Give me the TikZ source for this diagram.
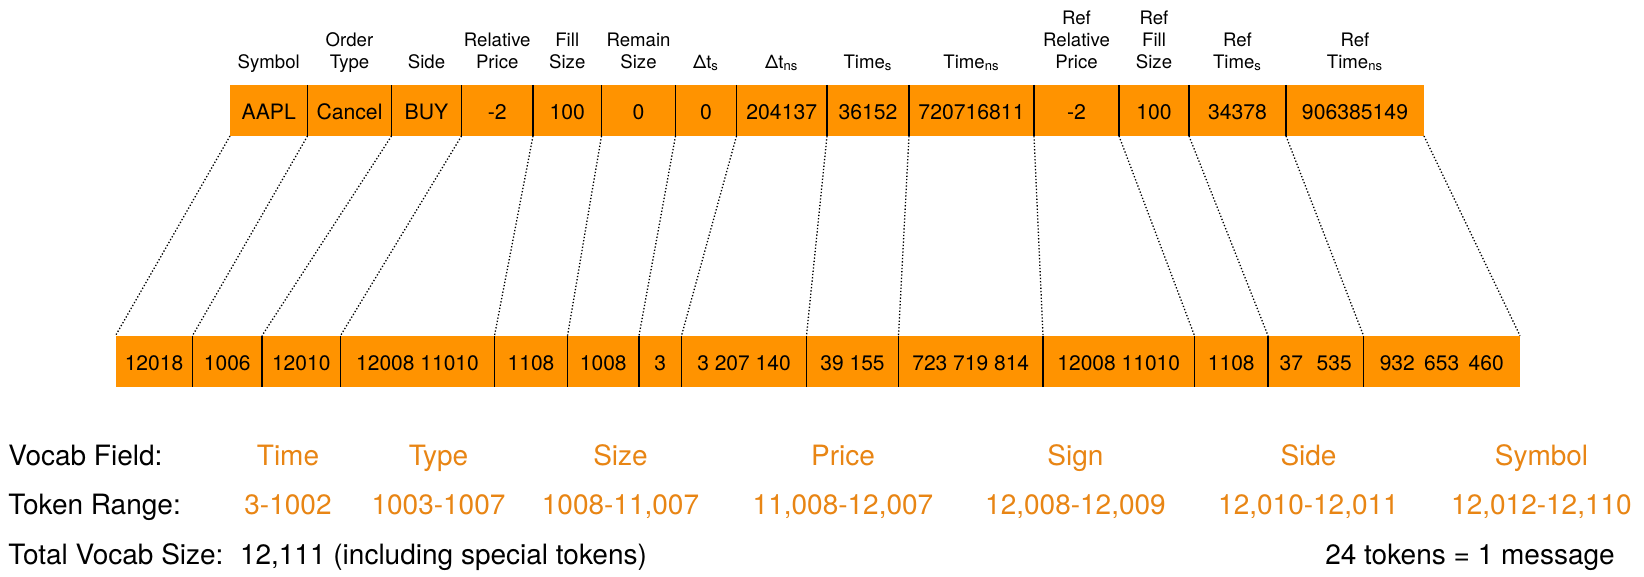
\documentclass[tikz,border=0pt]{standalone}
\usepackage{fontspec}
\setmainfont{TeX Gyre Heros}
\definecolor{cellorange}{RGB}{255,147,0}
\definecolor{txtorange}{RGB}{232,133,20}
\newcommand\hdstack[1]{\begin{tabular}[b]{@{}c@{}}#1\end{tabular}}
\begin{document}
\begin{tikzpicture}[x=0.5pt,y=-0.5pt,
  topcell/.style={rectangle, fill=cellorange, inner sep=0pt, outer sep=0pt,
    minimum height=25.5pt, text height=9.4pt, text depth=0pt,
    font=\fontsize{10.6}{12}\selectfont, anchor=west},
  botcell/.style={topcell, font=\fontsize{10.5}{12}\selectfont},
  hdr/.style={inner sep=0pt, outer sep=0pt, anchor=base, font=\fontsize{9.3}{10.85}\selectfont},
  divider/.style={black, line width=0.7pt},
  conn/.style={black, line width=0.65pt, dash pattern=on 0.65pt off 1pt},
  lbl/.style={inner sep=0pt, outer sep=0pt, font=\fontsize{14}{16}\selectfont},
  field/.style={lbl, text=txtorange, anchor=base}
]
\useasboundingbox (0,0) rectangle (1644,577);

% ---------- top row ----------
\node[topcell, minimum width=38.75pt] (T0) at (230,110.5) {AAPL};
\node[topcell, minimum width=42pt]    (T1) at (T0.east) {Cancel};
\node[topcell, minimum width=35pt]    (T2) at (T1.east) {BUY};
\node[topcell, minimum width=35.75pt] (T3) at (T2.east) {-2};
\node[topcell, minimum width=34.25pt] (T4) at (T3.east) {100};
\node[topcell, minimum width=37pt]    (T5) at (T4.east) {0};
\node[topcell, minimum width=30.5pt]  (T6) at (T5.east) {0};
\node[topcell, minimum width=45.25pt] (T7) at (T6.east) {204137};
\node[topcell, minimum width=41pt]    (T8) at (T7.east) {36152};
\node[topcell, minimum width=62.5pt]  (T9) at (T8.east) {720716811};
\node[topcell, minimum width=42.5pt]  (T10) at (T9.east) {-2};
\node[topcell, minimum width=35pt]    (T11) at (T10.east) {100};
\node[topcell, minimum width=48.5pt]  (T12) at (T11.east) {34378};
\node[topcell, minimum width=69pt]    (T13) at (T12.east) {906385149};

% ---------- bottom row ----------
\node[botcell, minimum width=38.5pt]  (B0) at (115.5,361.2) {12018};
\node[botcell, minimum width=34.75pt] (B1) at (B0.east) {1006};
\node[botcell, minimum width=39.25pt] (B2) at (B1.east) {12010};
\node[botcell, minimum width=77pt]    (B3) at (B2.east) {12008 11010};
\node[botcell, minimum width=36.5pt]  (B4) at (B3.east) {1108};
\node[botcell, minimum width=35.75pt] (B5) at (B4.east) {1008};
\node[botcell, minimum width=21.25pt] (B6) at (B5.east) {3};
\node[botcell, minimum width=62.5pt]  (B7) at (B6.east) {3 207 140};
\node[botcell, minimum width=46pt]    (B8) at (B7.east) {39 155};
\node[botcell, minimum width=72.25pt] (B9) at (B8.east) {723 719 814};
\node[botcell, minimum width=75.75pt] (B10) at (B9.east) {12008 11010};
\node[botcell, minimum width=36.75pt] (B11) at (B10.east) {1108};
\node[botcell, minimum width=47.75pt] (B12) at (B11.east) {37\hspace{0.65em}535};
\node[botcell, minimum width=78.25pt] (B13) at (B12.east) {932\hspace{0.45em}653\hspace{0.45em}460};

% ---------- dividers ----------
\foreach \i in {0,...,12} {
  \draw[divider] (T\i.north east) -- (T\i.south east);
  \draw[divider] (B\i.north east) -- (B\i.south east);
}

% ---------- dotted connectors ----------
\foreach \i in {0,...,13} {
  \draw[conn] (T\i.south west) -- (B\i.north west);
}
\draw[conn] (T13.south east) -- (B13.north east);

% ---------- headers ----------
\coordinate (hb) at (0,68.3);
\node[hdr] (H0)  at (T0.center |- hb)  {Symbol};
\node[hdr] (H1)  at (T1.center |- hb)  {\hdstack{Order\\Type}};
\node[hdr] (H2)  at (T2.center |- hb)  {Side};
\node[hdr] (H3)  at (T3.center |- hb)  {\hdstack{Relative\\Price}};
\node[hdr] (H4)  at (T4.center |- hb)  {\hdstack{Fill\\Size}};
\node[hdr] (H5)  at (T5.center |- hb)  {\hdstack{Remain\\Size}};
\node[hdr] (H6)  at (T6.center |- hb)  {Δt\textsubscript{s}};
\node[hdr] (H7)  at (T7.center |- hb)  {Δt\textsubscript{ns}};
\node[hdr] (H8)  at (T8.center |- hb)  {Time\textsubscript{s}};
\node[hdr] (H9)  at (T9.center |- hb)  {Time\textsubscript{ns}};
\node[hdr] (H10) at (T10.center |- hb) {\hdstack{Ref\\Relative\\Price}};
\node[hdr] (H11) at (T11.center |- hb) {\hdstack{Ref\\Fill\\Size}};
\node[hdr] (H12) at (T12.center |- hb) {\hdstack{Ref\\Time\textsubscript{s}}};
\node[hdr] (H13) at (T13.center |- hb) {\hdstack{Ref\\Time\textsubscript{ns}}};

% ---------- legend ----------
\node[lbl, anchor=base west] (vf)  at (8.4,465.5) {Vocab Field:};
\node[lbl, anchor=base west] (tr)  at (8.4,514.5) {Token Range:};
\node[lbl, anchor=base west] (tv)  at (8.4,564.5) {Total Vocab Size:};
\node[lbl, anchor=base west] (tvv) at (240,564.5) {12,111 (including special tokens)};
\node[lbl, anchor=base east] (msg) at (1614.7,564.5) {24 tokens = 1 message};

\node[field] (f1) at (288,465.5)  {Time};
\node[field] (f2) at (438.5,465.5)  {Type};
\node[field] (f3) at (620.5,465.5)  {Size};
\node[field] (f4) at (843,465.5)  {Price};
\node[field] (f5) at (1075.5,465.5) {Sign};
\node[field] (f6) at (1308.5,465.5) {Side};
\node[field] (f7) at (1541.5,465.5) {Symbol};

\node[field] (r1) at (288,514.5)  {3-1002};
\node[field] (r2) at (438.5,514.5)  {1003-1007};
\node[field] (r3) at (620.5,514.5)  {1008-11,007};
\node[field] (r4) at (843,514.5)  {11,008-12,007};
\node[field] (r5) at (1075.5,514.5) {12,008-12,009};
\node[field] (r6) at (1308.5,514.5) {12,010-12,011};
\node[field] (r7) at (1541.5,514.5) {12,012-12,110};
\end{tikzpicture}
\end{document}
